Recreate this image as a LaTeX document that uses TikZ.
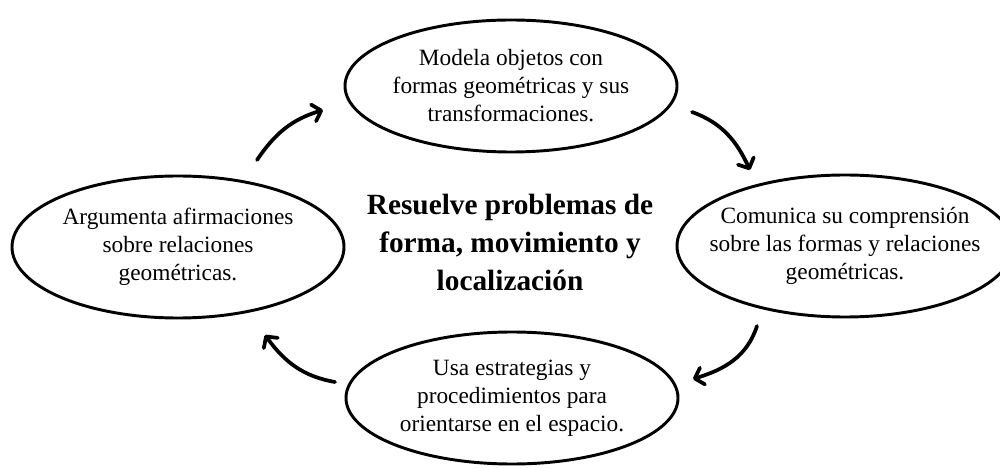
\documentclass[tikz,border=0pt]{standalone}
\usepackage{fontspec}
\setmainfont{Liberation Serif}
\usepackage{tikz}
\usetikzlibrary{positioning,arrows.meta,shapes.geometric}

\begin{document}
\begin{tikzpicture}[
  x=0.75pt,y=0.75pt,
  ov/.style={ellipse,draw=black,line width=2.2pt,inner sep=0,minimum width=249pt,minimum height=99pt},
  t/.style={align=center,font=\fontsize{17.5}{21}\selectfont,inner sep=0},
  b/.style={align=center,font=\fontsize{22}{28.5}\selectfont\bfseries,inner sep=0},
  a/.style={-{Straight Barb[length=6pt,width=13pt,round]},line width=2.8pt,line cap=round},
]
\useasboundingbox (0,0) rectangle (1000,468);

% ovals
\node[ov] (top) at (511,382){};
\node[ov,minimum height=106.5pt] (left) at (178,221){};
\node[ov,minimum width=252pt,minimum height=106.5pt] (right) at (845,222){};
\node[ov] (bot) at (512,70){};

% texts
\node[t] (topt) at (top){Modela objetos con\\formas geométricas y sus\\transformaciones.};
\node[t] (leftt) at (left){Argumenta afirmaciones\\sobre relaciones\\geométricas.};
\node[t] (rightt) at (right){Comunica su comprensión\\sobre las formas y relaciones\\geométricas.};
\node[t] (bott) at (bot){Usa estrategias y\\procedimientos para\\orientarse en el espacio.};
\node[b] (mid) at (510,226){Resuelve problemas de\\forma, movimiento y\\localización};

% arrows
\coordinate (a1s) at (257,308); \coordinate (a1e) at (323,358);
\coordinate (a2s) at (692,356); \coordinate (a2e) at (750,298);
\coordinate (a3s) at (757,142); \coordinate (a3e) at (693,89);
\coordinate (a4s) at (335,86);  \coordinate (a4e) at (265,133);
\draw[a] (a1s) to[out=56,in=197] (a1e);
\draw[a] (a2s) to[out=-20,in=115] (a2e);
\draw[a] (a3s) to[out=-108,in=17] (a3e);
\draw[a] (a4s) to[out=170,in=306] (a4e);
\end{tikzpicture}
\end{document}
